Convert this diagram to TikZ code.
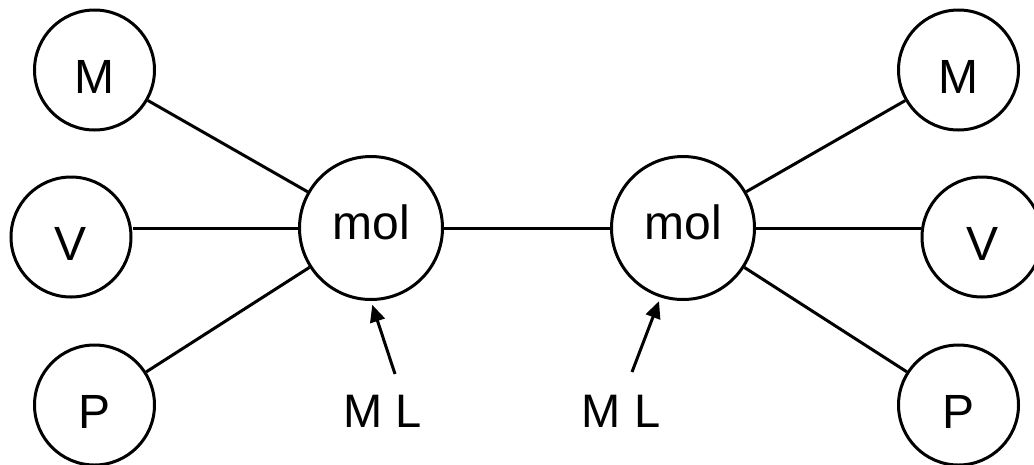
\documentclass[tikz,border=0pt]{standalone}
\usepackage{fontspec}
\setmainfont{Liberation Sans}
\usetikzlibrary{arrows.meta}
\begin{document}
\begin{tikzpicture}[x=1pt,y=-1pt,
  small/.style={circle,draw,line width=3pt,minimum size=120pt,inner sep=0pt,
    font=\fontsize{48}{48}\selectfont,text height=47pt,text depth=0pt},
  big/.style={circle,draw,line width=3pt,minimum size=143pt,inner sep=0pt,
    font=\fontsize{48}{48}\selectfont,text height=23pt,text depth=0pt},
  lab/.style={inner sep=0pt,font=\fontsize{47}{47}\selectfont},
  conn/.style={line width=3pt},
  arr/.style={line width=3pt,-{Triangle[length=17pt,width=15pt]},shorten >=4pt}]
\useasboundingbox (0,0) rectangle (1034,464);
\node[small] (LM) at (94.5,70) {M};
\node[small] (LV) at (71,237) {V};
\node[small] (LP) at (94.5,405) {P};
\node[big] (molL) at (371,228) {mol};
\node[big] (molR) at (683,228) {mol};
\node[small] (RM) at (958.5,70) {M};
\node[small] (RV) at (982,237) {V};
\node[small] (RP) at (958.5,405) {P};
\node[lab] (ML1) at (383,411.5) {M L};
\node[lab] (ML2) at (621,411.5) {M L};
\coordinate (s1) at (395,374);
\coordinate (s2) at (632,372);
\draw[conn] (LM) -- (molL);
\draw[conn] (molL.west) -- (molL.west -| LV.east);
\draw[conn] (LP) -- (molL);
\draw[conn] (molL) -- (molR);
\draw[conn] (molR) -- (RM);
\draw[conn] (molR.east) -- (molR.east -| RV.west);
\draw[conn] (molR) -- (RP);
\draw[arr] (s1) -- (molL.south);
\draw[arr] (s2) -- (molR.252);
\end{tikzpicture}
\end{document}
